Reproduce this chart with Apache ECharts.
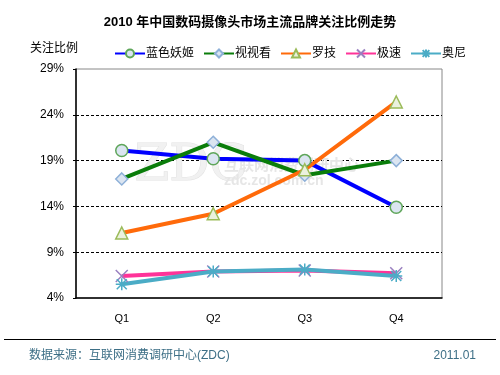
<!DOCTYPE html>
<html lang="zh">
<head>
    <meta charset="UTF-8">
    <title>2010 年中国数码摄像头市场主流品牌关注比例走势</title>
    <style>
        body { margin: 0; background: #fff; }
        #container { width: 500px; height: 375px; }
    </style>
    <script src="https://cdn.jsdelivr.net/npm/echarts@6.0.0/dist/echarts.min.js"></script>
</head>
<body>
    <div id="container"></div>
    <script>
        // 数据
        var quarters = ['Q1', 'Q2', 'Q3', 'Q4'];
        var brands = ['蓝色妖姬', '视视看', '罗技', '极速', '奥尼'];
        var lanseyaoji = [20.1, 19.2, 19.0, 13.9];
        var shishikan = [17.0, 21.0, 17.4, 19.0];
        var luoji = [11.1, 13.2, 18.0, 25.4];
        var jisu = [6.4, 6.9, 7.0, 6.7];
        var aoni = [5.5, 6.9, 7.1, 6.4];

        var font = 'Arial, "Liberation Sans", "Noto Sans CJK SC", sans-serif';
        var crossPath = 'path://M0,0L10,10M10,0L0,10';
        var starPath = 'path://M0,0L10,10M10,0L0,10M5,-1L5,11M-1,5L11,5';

        function makeSeries(name, data, lineColor, symbol, fill, border) {
            return {
                name: name,
                type: 'line',
                data: data,
                symbol: symbol,
                symbolSize: 12,
                showAllSymbol: true,
                lineStyle: { color: lineColor, width: 4 },
                itemStyle: { color: fill, borderColor: border, borderWidth: 1.5 },
                emphasis: { disabled: true }
            };
        }

        var chart = echarts.init(document.getElementById('container'));
        chart.setOption({
            backgroundColor: '#fff',
            animation: false,
            textStyle: { fontFamily: font },
            title: {
                text: '2010 年中国数码摄像头市场主流品牌关注比例走势',
                left: 'center',
                top: 11,
                textStyle: { fontSize: 13, fontWeight: 'bold', color: '#000', fontFamily: font }
            },
            legend: {
                data: brands,
                left: 109,
                top: 42,
                itemWidth: 30,
                itemHeight: 10,
                itemGap: 9,
                textStyle: { fontSize: 12, color: '#000', padding: [0, 0, 0, -4] }
            },
            grid: {
                left: 76, right: 58, top: 69, bottom: 77,
                show: true,
                borderColor: '#888',
                borderWidth: 1
            },
            xAxis: {
                type: 'category',
                data: quarters,
                boundaryGap: true,
                axisLine: { lineStyle: { color: '#000', width: 1.5 } },
                axisTick: { inside: true, length: 5, lineStyle: { color: '#000' } },
                axisLabel: { color: '#000', fontSize: 11, margin: 15 }
            },
            yAxis: {
                type: 'value',
                min: 4,
                max: 29,
                interval: 5,
                name: '关注比例',
                nameLocation: 'end',
                nameGap: 14,
                nameTextStyle: { color: '#000', fontSize: 12, align: 'right', padding: [0, -2, 0, 0] },
                axisLine: { show: true, lineStyle: { color: '#000', width: 1.5 } },
                axisTick: { show: true, length: 3, lineStyle: { color: '#000' } },
                axisLabel: { color: '#000', fontSize: 12, margin: 12, formatter: '{value}%' },
                splitLine: {
                    show: true,
                    lineStyle: {
                        color: ['transparent', '#000', '#000', '#000', '#000', 'transparent'],
                        type: [3, 2],
                        width: 1
                    }
                }
            },
            graphic: [
                // 水印
                {
                    type: 'text', left: 134, top: 142, z: 1,
                    style: { text: 'ZDC', fill: '#f1f1f1', stroke: '#e2e2e2', lineWidth: 1, font: '50px "DejaVu Serif", serif' }
                },
                {
                    type: 'text', left: 224, top: 157, z: 1,
                    style: { text: '互联网消费调研中心', fill: '#e6e6e6', font: 'bold 15px "Noto Sans CJK SC"' }
                },
                {
                    type: 'text', left: 224, top: 174, z: 1,
                    style: { text: 'zdc.zol.com.cn', fill: '#e6e6e6', font: 'bold 14px ' + font }
                },
                {
                    type: 'line',
                    shape: { x1: 4, y1: 339.5, x2: 496, y2: 339.5 },
                    style: { stroke: '#000', lineWidth: 1 }
                },
                {
                    type: 'text',
                    left: 29,
                    top: 350,
                    style: { text: '数据来源：互联网消费调研中心(ZDC)', fill: '#3d6f86', font: '12px ' + font }
                },
                {
                    type: 'text',
                    right: 24,
                    top: 350,
                    style: { text: '2011.01', fill: '#3d6f86', font: '12px ' + font }
                }
            ],
            series: [
                makeSeries(brands[0], lanseyaoji, '#0000ff', 'circle', '#dbe5f1', '#5fa65a'),
                makeSeries(brands[1], shishikan, '#0a7d0a', 'diamond', '#dbe5f1', '#8eb0d8'),
                makeSeries(brands[2], luoji, '#ff6a0a', 'triangle', '#ebf1de', '#9bbb59'),
                makeSeries(brands[3], jisu, '#ff3399', crossPath, 'none', '#9a80c0'),
                makeSeries(brands[4], aoni, '#4bacc6', starPath, 'none', '#4bacc6')
            ]
        });
    </script>
</body>
</html>
